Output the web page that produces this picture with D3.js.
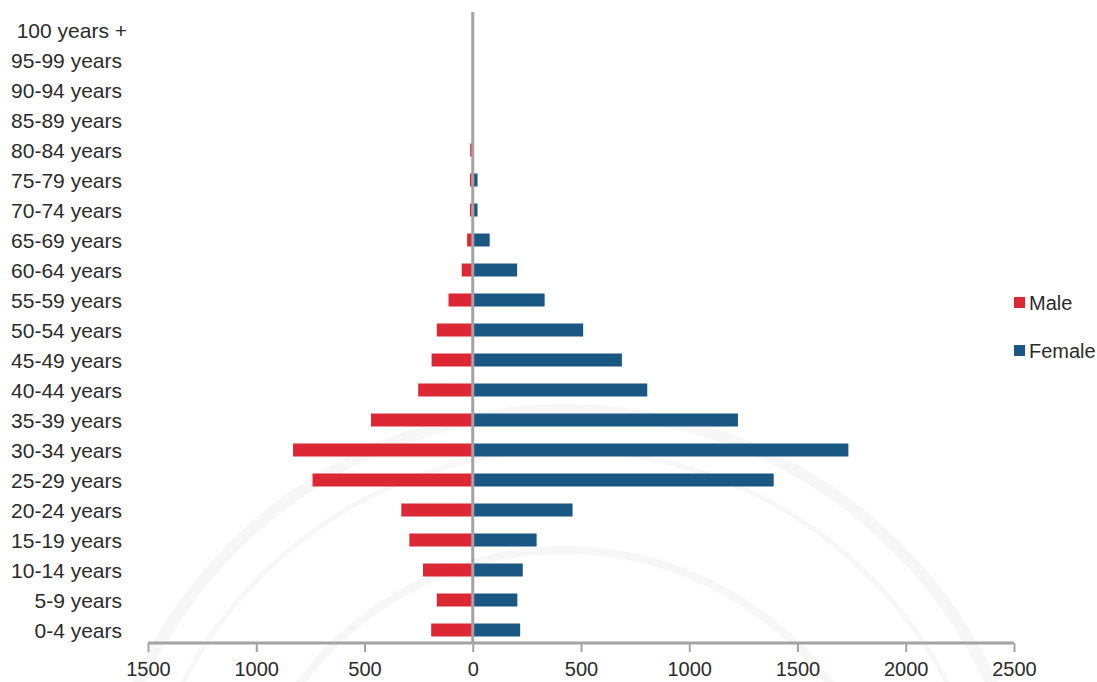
<!DOCTYPE html>
<html>
<head>
<meta charset="utf-8">
<script src="https://cdn.jsdelivr.net/npm/d3@7"></script>
<style>
  html, body { margin: 0; padding: 0; background: #fff; }
  svg { display: block; }
  text { font-family: "Liberation Sans", Arial, sans-serif; fill: #2b2b2b; }
</style>
</head>
<body>
<svg id="chart" width="1097" height="682"></svg>
<script>
// Age groups, youngest first (drawn bottom to top)
const ageGroups = [
  "0-4 years", "5-9 years", "10-14 years", "15-19 years", "20-24 years",
  "25-29 years", "30-34 years", "35-39 years", "40-44 years", "45-49 years",
  "50-54 years", "55-59 years", "60-64 years", "65-69 years", "70-74 years",
  "75-79 years", "80-84 years", "85-89 years", "90-94 years", "95-99 years",
  "100 years +"
];
const maleCounts = [192, 166, 230, 293, 330, 740, 830, 470, 252, 190, 166, 112, 51, 26, 13, 13, 12, 0, 0, 0, 0];
const femaleCounts = [219, 206, 231, 295, 461, 1390, 1735, 1225, 806, 689, 510, 332, 205, 78, 22, 22, 0, 0, 0, 0, 0];
const xTicks = [-1500, -1000, -500, 0, 500, 1000, 1500, 2000, 2500];
const seriesNames = ["Male", "Female"];
const seriesColors = ["#dc2834", "#1b5783"];

const svg = d3.select("#chart");

const x = d3.scaleLinear().domain([-1500, 2500]).range([148, 1014]);
const y = d3.scaleBand().domain(ageGroups).range([645, 15]).padding(0);
const barH = 13;

// faint seal in the background
const seal = svg.append("g").attr("fill", "none").attr("stroke", "#f7f7f7");
seal.append("circle").attr("cx", 565).attr("cy", 880).attr("r", 470).attr("stroke-width", 12);
seal.append("circle").attr("cx", 565).attr("cy", 880).attr("r", 430).attr("stroke-width", 5);
seal.append("circle").attr("cx", 565).attr("cy", 880).attr("r", 330).attr("stroke-width", 8);

const rows = ageGroups.map((g, i) => ({ g, male: maleCounts[i], female: femaleCounts[i] }));

// male bars extend left of zero
svg.append("g").selectAll("rect")
  .data(rows.filter(d => d.male > 0))
  .join("rect")
  .attr("x", d => x(-d.male))
  .attr("width", d => x(0) - x(-d.male))
  .attr("y", d => y(d.g) + y.bandwidth() / 2 - barH / 2)
  .attr("height", barH)
  .attr("fill", seriesColors[0]);

// female bars extend right of zero
svg.append("g").selectAll("rect")
  .data(rows.filter(d => d.female > 0))
  .join("rect")
  .attr("x", x(0))
  .attr("width", d => x(d.female) - x(0))
  .attr("y", d => y(d.g) + y.bandwidth() / 2 - barH / 2)
  .attr("height", barH)
  .attr("fill", seriesColors[1]);

// central vertical axis line
svg.append("line")
  .attr("x1", x(0)).attr("x2", x(0))
  .attr("y1", 12).attr("y2", 643)
  .attr("stroke", "#a3a3a3").attr("stroke-width", 3);

// category labels
svg.append("g").selectAll("text")
  .data(ageGroups)
  .join("text")
  .attr("x", d => d.endsWith("+") ? 127 : 122)
  .attr("y", d => y(d) + y.bandwidth() / 2)
  .attr("dy", "0.36em")
  .attr("text-anchor", "end")
  .attr("font-size", 21)
  .text(d => d);

// bottom value axis
const xAxis = d3.axisBottom(x)
  .tickValues(xTicks)
  .tickSize(9)
  .tickFormat(d => Math.abs(d));
const axisG = svg.append("g").attr("transform", "translate(0,643)").call(xAxis);
axisG.select(".domain").attr("stroke", "#a3a3a3").attr("stroke-width", 3)
  .attr("d", `M${x(-1500)},0H${x(2500)}`);
axisG.selectAll(".tick line").attr("stroke", "#a3a3a3").attr("stroke-width", 2);
axisG.selectAll(".tick text")
  .attr("font-size", 20)
  .attr("font-family", "'Liberation Sans Narrow', 'Liberation Sans', Arial, sans-serif")
  .attr("fill", "#2b2b2b")
  .attr("dy", "1.05em");

// legend
const legend = svg.append("g");
seriesNames.forEach((name, i) => {
  const ly = 302 + i * 48;
  legend.append("rect")
    .attr("x", 1014).attr("y", ly - 5).attr("width", 11).attr("height", 11)
    .attr("fill", seriesColors[i]);
  legend.append("text")
    .attr("x", 1029).attr("y", ly + 8)
    .attr("font-size", 20)
    .text(name);
});
</script>
</body>
</html>
